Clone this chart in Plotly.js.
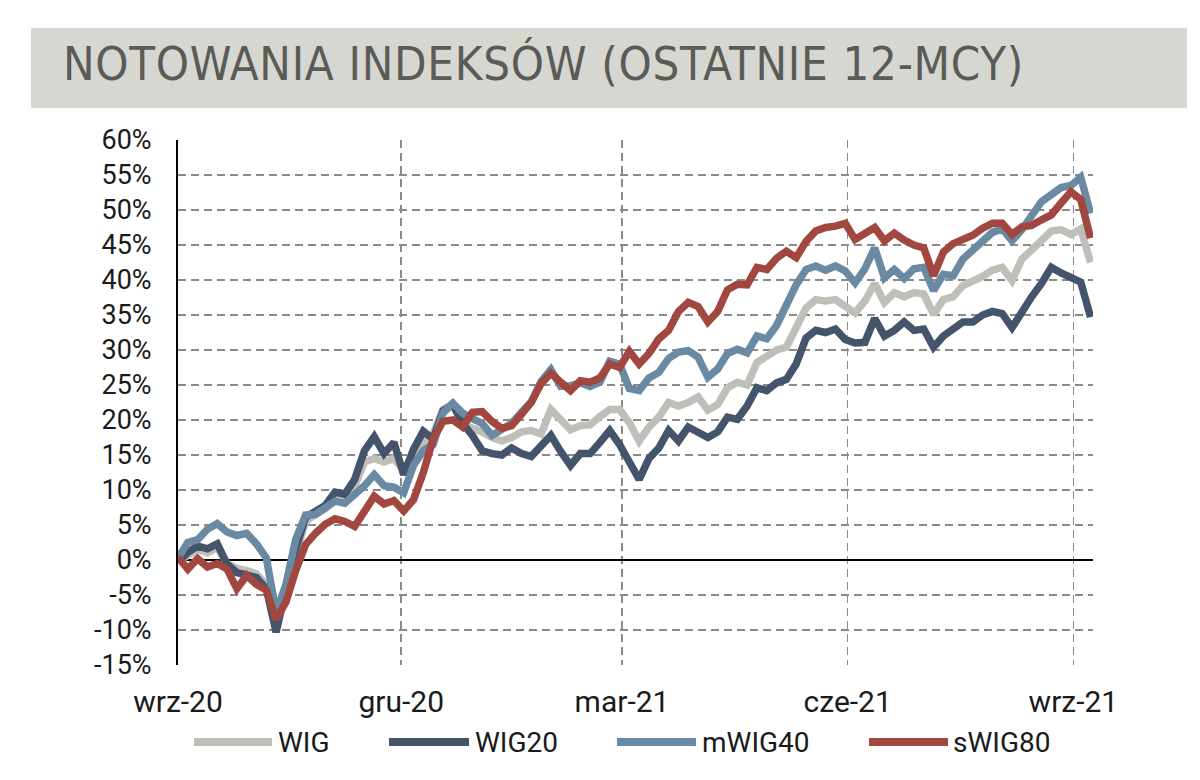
<!DOCTYPE html>
<html>
<head>
<meta charset="utf-8">
<script src="https://cdn.plot.ly/plotly-3.0.1.min.js"></script>
<style>
  html, body { margin: 0; padding: 0; background: #ffffff; }
  #chart { width: 1200px; height: 780px; }
  .gtitle { letter-spacing: 0.7px; }
</style>
</head>
<body>
<div id="chart"></div>
<script>
// ---------- DATA ----------
const dates = [
  '2020-09-01','2020-09-05','2020-09-09','2020-09-13','2020-09-17','2020-09-21','2020-09-25','2020-09-29','2020-10-03','2020-10-07',
  '2020-10-11','2020-10-15','2020-10-19','2020-10-23','2020-10-27','2020-10-31','2020-11-04','2020-11-08','2020-11-12','2020-11-16',
  '2020-11-20','2020-11-24','2020-11-28','2020-12-02','2020-12-06','2020-12-10','2020-12-14','2020-12-18','2020-12-22','2020-12-26',
  '2020-12-30','2021-01-03','2021-01-07','2021-01-11','2021-01-15','2021-01-19','2021-01-23','2021-01-27','2021-01-31','2021-02-04',
  '2021-02-08','2021-02-12','2021-02-16','2021-02-20','2021-02-24','2021-02-28','2021-03-04','2021-03-08','2021-03-12','2021-03-16',
  '2021-03-20','2021-03-24','2021-03-28','2021-04-01','2021-04-05','2021-04-09','2021-04-13','2021-04-17','2021-04-21','2021-04-25',
  '2021-04-29','2021-05-03','2021-05-07','2021-05-11','2021-05-15','2021-05-19','2021-05-23','2021-05-27','2021-05-31','2021-06-04',
  '2021-06-08','2021-06-12','2021-06-16','2021-06-20','2021-06-24','2021-06-28','2021-07-02','2021-07-06','2021-07-10','2021-07-14',
  '2021-07-18','2021-07-22','2021-07-26','2021-07-30','2021-08-03','2021-08-07','2021-08-11','2021-08-15','2021-08-19','2021-08-23',
  '2021-08-27','2021-08-31','2021-09-04','2021-09-08'
];

const wig = [
  -0.2, 0.8, 1.5, 1.0, 1.8, -0.5, -1.2, -1.5, -2.0, -3.5,
  -9.5, -4.0, 1.2, 5.5, 6.5, 7.3, 9.0, 9.0, 10.5, 14.0,
  14.5, 14.0, 14.5, 12.8, 14.8, 16.8, 18.0, 21.5, 22.3, 19.5,
  18.8, 18.3, 17.5, 17.0, 17.5, 18.3, 18.5, 18.0, 21.5, 20.0,
  18.6, 19.2, 19.3, 20.5, 21.5, 21.5, 19.6, 17.0, 19.0, 20.4,
  22.5, 22.0, 22.5, 23.3, 21.4, 22.2, 24.6, 25.4, 25.0, 28.2,
  29.0, 30.0, 30.4, 33.0, 36.0, 37.2, 37.0, 37.2, 36.2, 35.3,
  37.0, 39.5, 36.8, 38.2, 37.6, 38.2, 38.0, 35.1, 37.2, 37.6,
  39.2, 39.8, 40.5, 41.4, 41.8, 39.9, 43.0, 44.3, 45.6, 47.0,
  47.2, 46.5, 47.3, 42.5
];

const wig20 = [
  -0.3, 1.1, 2.0, 1.6, 2.3, -0.6, -1.8, -2.2, -2.5, -4.1,
  -10.3, -4.1, 1.6, 6.1, 7.0, 7.8, 9.7, 9.4, 11.5, 15.6,
  17.6, 15.2, 16.8, 12.2, 15.8, 18.4, 17.3, 21.3, 22.2, 19.5,
  17.8, 15.6, 15.2, 15.0, 16.0, 15.2, 14.8, 16.5, 17.8, 15.5,
  13.5, 15.2, 15.2, 16.8, 18.5, 16.5, 14.2, 11.5, 14.5, 16.0,
  18.5, 17.0, 19.0, 18.3, 17.5, 18.3, 20.4, 20.1, 22.0, 24.6,
  24.2, 25.3, 25.8, 28.0, 31.7, 32.8, 32.5, 33.0, 31.5, 31.0,
  31.1, 34.5, 32.0, 32.8, 34.0, 32.8, 33.0, 30.4, 32.0, 33.0,
  34.0, 34.0, 35.0, 35.5, 35.2, 33.2, 35.5, 37.6, 39.5, 41.8,
  41.0, 40.2, 39.7, 34.7
];

const mwig40 = [
  0.3, 2.5, 2.9, 4.4, 5.2, 4.0, 3.5, 3.8, 2.3, 0.3,
  -7.5, -3.5, 3.0, 6.4, 6.5, 7.6, 8.4, 8.1, 9.2, 10.6,
  12.2, 10.6, 10.4, 9.6, 13.5, 15.6, 16.5, 21.0, 22.4, 21.0,
  20.2, 19.5, 17.8, 18.8, 19.5, 21.1, 22.6, 25.5, 27.2, 24.8,
  24.9, 25.3, 24.8, 25.4, 28.4, 28.0, 24.5, 24.2, 26.0, 26.8,
  28.8, 29.7, 29.9, 29.0, 26.1, 27.3, 29.5, 30.1, 29.6, 32.0,
  31.6, 33.5, 36.6, 39.3, 41.5, 42.0, 41.4, 42.0, 41.3, 39.6,
  41.6, 44.6, 40.3, 41.5, 40.2, 41.6, 41.8, 38.5, 40.8, 40.6,
  43.0, 44.2, 45.5, 46.8, 47.3, 45.6, 47.2, 49.2, 51.2, 52.2,
  53.2, 53.5, 54.7, 49.5
];

const swig80 = [
  0.4, -1.3, 0.2, -1.0, -0.5, -1.3, -4.1, -2.2, -3.5, -4.3,
  -8.5, -6.0, -1.5, 2.2, 3.8, 5.1, 5.9, 5.5, 4.8, 6.9,
  9.1, 8.0, 8.5, 7.0, 8.6, 12.5, 17.3, 19.8, 20.0, 19.0,
  21.1, 21.2, 19.8, 18.8, 19.2, 20.8, 22.5, 25.2, 26.7, 25.4,
  24.2, 25.6, 25.4, 26.0, 28.0, 27.5, 29.8, 28.0, 29.5, 31.6,
  32.8, 35.5, 36.8, 36.2, 34.0, 35.5, 38.6, 39.4, 39.3, 41.8,
  41.5, 43.1, 44.1, 43.2, 45.5, 47.0, 47.5, 47.7, 48.1, 45.8,
  46.8, 47.5, 45.6, 46.7, 45.7, 45.0, 44.6, 40.6, 44.0, 45.2,
  45.8, 46.4, 47.4, 48.1, 48.1, 46.5, 47.6, 47.8, 48.6, 49.3,
  51.0, 52.6, 51.5, 46.0
];

const seriesNames = ['WIG', 'WIG20', 'mWIG40', 'sWIG80'];
const xTickVals = ['2020-09-01', '2020-12-01', '2021-03-01', '2021-06-01', '2021-09-01'];
const xTickText = ['wrz-20', 'gru-20', 'mar-21', 'cze-21', 'wrz-21'];
const yTickVals = [-15, -10, -5, 0, 5, 10, 15, 20, 25, 30, 35, 40, 45, 50, 55, 60];
const yTickText = ['-15%', '-10%', '-5%', '0%', '5%', '10%', '15%', '20%', '25%', '30%', '35%', '40%', '45%', '50%', '55%', '60%'];
const titleText = 'NOTOWANIA INDEKSÓW (OSTATNIE 12-MCY)';

// ---------- STYLE ----------
const colors = ['#bfbfb9', '#44546a', '#6a8aa4', '#a1473f'];
const values = [wig, wig20, mwig40, swig80];
const tickFontFamily = 'Roboto, Liberation Sans, sans-serif';

const traces = values.map((v, i) => ({
  x: dates, y: v, type: 'scatter', mode: 'lines', name: seriesNames[i],
  line: { color: colors[i], width: 7.5, shape: 'linear' },
  showlegend: false, hoverinfo: 'x+y+name'
}));

// custom legend (long line samples as in the reference)
const W = 915, H = 525, L = 178, T = 140;
const px2x = p => (p - L) / W;
const py2y = p => (T + H - p) / H;
const legendItems = [
  { x0: 194, x1: 272, tx: 276 },
  { x0: 389, x1: 469, tx: 473 },
  { x0: 617, x1: 696, tx: 700 },
  { x0: 869, x1: 948, tx: 951 }
];
const legendY = 742;

const shapes = [
  { type: 'rect', xref: 'paper', yref: 'paper', x0: px2x(31), x1: px2x(1187), y0: py2y(108), y1: py2y(28),
    fillcolor: '#d7d7d2', line: { width: 0 }, layer: 'below' }
];
const annotations = [];
legendItems.forEach((it, i) => {
  shapes.push({ type: 'line', xref: 'paper', yref: 'paper', x0: px2x(it.x0), x1: px2x(it.x1),
    y0: py2y(legendY), y1: py2y(legendY), line: { color: colors[i], width: 8 } });
  annotations.push({ xref: 'paper', yref: 'paper', x: px2x(it.tx), y: py2y(legendY),
    xanchor: 'left', yanchor: 'middle', showarrow: false, text: seriesNames[i],
    font: { family: tickFontFamily, size: 28, color: '#1a1a1a' } });
});

const layout = {
  width: 1200, height: 780, autosize: false,
  margin: { l: L, r: 1200 - L - W, t: T, b: 780 - T - H, pad: 0 },
  paper_bgcolor: '#ffffff', plot_bgcolor: '#ffffff',
  title: {
    text: titleText, xref: 'container', yref: 'container',
    x: 63 / 1200, xanchor: 'left', y: 1 - 64 / 780, yanchor: 'middle',
    font: { family: 'Liberation Sans Narrow, DejaVu Sans Condensed, sans-serif', size: 47, color: '#5b5b56' }
  },
  xaxis: {
    type: 'date', range: ['2020-09-01', '2021-09-09'],
    tickmode: 'array', tickvals: xTickVals, ticktext: xTickText,
    showgrid: true, gridcolor: '#8a8a8a', gridwidth: 1.5, griddash: '8px,5px',
    zeroline: false, showline: false, ticks: '', ticklabelstandoff: 16,
    tickfont: { family: tickFontFamily, size: 30, color: '#1a1a1a' },
    fixedrange: true
  },
  yaxis: {
    range: [-15, 60], tickmode: 'array', tickvals: yTickVals, ticktext: yTickText,
    showgrid: true, gridcolor: '#8a8a8a', gridwidth: 1.5, griddash: '8px,5px',
    zeroline: true, zerolinecolor: '#000000', zerolinewidth: 2,
    showline: true, linecolor: '#000000', linewidth: 2,
    ticks: '', ticklabelstandoff: 19,
    tickfont: { family: tickFontFamily, size: 27, color: '#1a1a1a' },
    fixedrange: true
  },
  shapes: shapes,
  annotations: annotations,
  showlegend: false,
  hovermode: 'closest'
};

Plotly.newPlot('chart', traces, layout, { displayModeBar: false, staticPlot: true });
</script>
</body>
</html>
